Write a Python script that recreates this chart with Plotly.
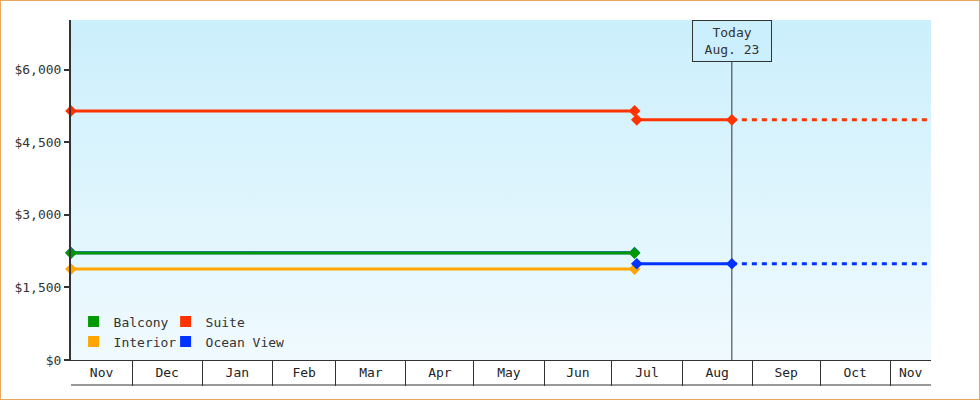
import pandas as pd
import plotly.graph_objects as go

# dates on the time axis
start_date = "2022-11-04"
change_date = "2023-07-11"
new_price_date = "2023-07-12"
today = "2023-08-23"
end_date = "2023-11-19"

# cabin prices ($) - before the July change, after it (None = no new price)
cabins = ["Interior", "Ocean View", "Balcony", "Suite"]
old_prices = [1880, 2220, 2210, 5150]
new_prices = [None, 1990, None, 4965]
colors = ["#FFA500", "#0033FF", "#009900", "#FF3300"]

y_ticks = [0, 1500, 3000, 4500, 6000]
y_max = 7030

FONT = "DejaVu Sans Mono"
INK = "#333333"

fig = go.Figure()

# gradient plot background
fig.add_trace(go.Scatter(
    x=[start_date, end_date, end_date, start_date],
    y=[0, 0, y_max, y_max],
    fill="toself", mode="lines", line=dict(width=0),
    fillgradient=dict(type="vertical",
                      colorscale=[[0, "#F0FAFE"], [1, "#CBEFFC"]]),
    hoverinfo="skip", showlegend=False))

# today marker line
fig.add_trace(go.Scatter(
    x=[today, today], y=[0, y_max], mode="lines",
    line=dict(color=INK, width=1), hoverinfo="skip", showlegend=False))

for name, old, new, col in zip(cabins, old_prices, new_prices, colors):
    fig.add_trace(go.Scatter(
        x=[start_date, change_date], y=[old, old], name=name,
        mode="lines+markers", line=dict(color=col, width=3),
        marker=dict(symbol="diamond", size=9, color=col),
        cliponaxis=False, showlegend=False))
    if new is None:
        continue
    fig.add_trace(go.Scatter(
        x=[new_price_date, today], y=[new, new], name=name,
        mode="lines+markers", line=dict(color=col, width=3),
        marker=dict(symbol="diamond", size=9, color=col),
        cliponaxis=False, showlegend=False))
    fig.add_trace(go.Scatter(
        x=[today, end_date], y=[new, new], name=name + " (forecast)",
        mode="lines", line=dict(color=col, width=3, dash="5px,5px"),
        showlegend=False))

# legend swatches: two columns
legend_cols = {"Balcony": "legend", "Interior": "legend",
               "Suite": "legend2", "Ocean View": "legend2"}
for name in ["Balcony", "Interior", "Suite", "Ocean View"]:
    col = colors[cabins.index(name)]
    fig.add_trace(go.Scatter(
        x=[None], y=[None], name=name, mode="markers",
        marker=dict(symbol="square", size=11, color=col),
        legend=legend_cols[name]))

# month labels centred in the visible part of each month
x0, x1 = pd.Timestamp(start_date), pd.Timestamp(end_date)
month_starts = pd.date_range(x0.to_period("M").to_timestamp(), x1, freq="MS")
label_vals, label_text = [], []
for m in month_starts:
    a = max(m, x0)
    b = min(m + pd.offsets.MonthBegin(1), x1)
    label_vals.append(a + (b - a) / 2)
    label_text.append(m.strftime("%b"))

fig.update_xaxes(
    type="date", range=[start_date, end_date],
    tickmode="array", tickvals=label_vals, ticktext=label_text, ticks="",
    ticklabelstandoff=0,
    minor=dict(tickmode="array", tickvals=list(month_starts[1:]),
               ticks="outside", ticklen=25, tickcolor=INK, tickwidth=1),
    showline=True, linecolor=INK, linewidth=1, showgrid=False, zeroline=False,
    tickfont=dict(family=FONT, size=13, color="#222222"))

fig.update_yaxes(
    range=[0, y_max], tickmode="array", tickvals=y_ticks,
    ticktext=["${:,}".format(v) for v in y_ticks],
    ticks="outside", ticklen=5, tickwidth=2, tickcolor=INK,
    showline=True, linecolor=INK, linewidth=2, showgrid=False, zeroline=False,
    tickfont=dict(family=FONT, size=13, color=INK))

fig.add_annotation(
    x=today, y=1, xref="x", yref="paper", yanchor="top",
    text="Today<br>Aug. 23", showarrow=False, align="center",
    font=dict(family=FONT, size=13, color=INK),
    bgcolor="#CBEFFC", bordercolor=INK, borderwidth=1,
    width=76, height=38)

W, H = 980, 400
ml, mr, mt, mb = 71, 49, 20, 40
pw, ph = W - ml - mr, H - mt - mb

# line under the month cells and the outer frame
fig.add_shape(type="line", xref="paper", yref="paper",
              x0=0, x1=1, y0=-25 / ph, y1=-25 / ph,
              line=dict(color=INK, width=1))
fig.add_shape(type="rect", xref="paper", yref="paper",
              x0=-ml / pw, x1=1 + mr / pw, y0=-mb / ph, y1=1 + mt / ph,
              line=dict(color="#E8A860", width=2))

legend_style = dict(font=dict(family=FONT, size=13, color=INK),
                    bgcolor="rgba(0,0,0,0)", yanchor="bottom", y=0.01,
                    xanchor="left", tracegroupgap=0)
fig.update_layout(
    width=W, height=H,
    margin=dict(l=ml, r=mr, t=mt, b=mb),
    paper_bgcolor="white", plot_bgcolor="white",
    font=dict(family=FONT, color=INK),
    legend=dict(x=0.003, **legend_style),
    legend2=dict(x=0.11, **legend_style),
)

fig.write_html("out.html", config={"displayModeBar": False},
               post_script="document.body.style.margin='0';")
